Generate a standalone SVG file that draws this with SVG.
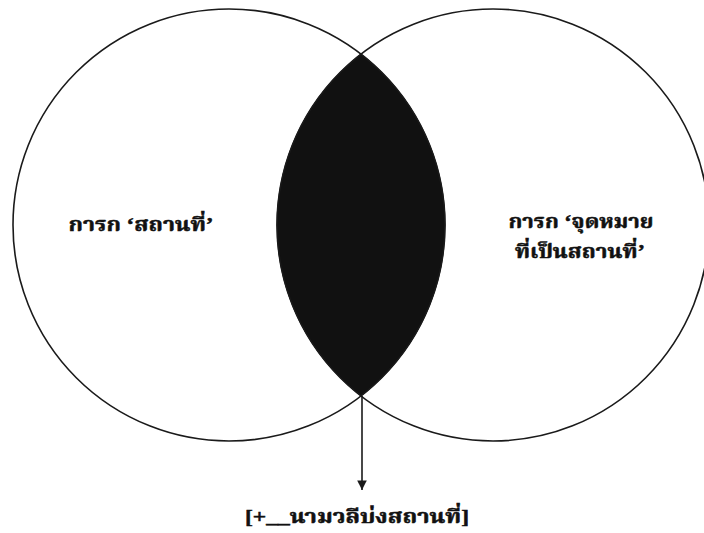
<svg xmlns="http://www.w3.org/2000/svg" width="704" height="533" viewBox="0 0 704 533">
  <style>
    .circle { fill: none; stroke: #1a1a1a; stroke-width: 1.6; }
    .lens { fill: #111111; stroke: #111111; stroke-width: 1; }
    .label { font-family: "Liberation Serif", "Noto Serif Thai", "Noto Sans Thai", serif; font-weight: bold; font-size: 19px; fill: #111111; stroke: #111111; stroke-width: 0.5; text-anchor: middle; }
    .conn { stroke: #1a1a1a; stroke-width: 1.6; fill: none; }
  </style>
  <defs>
    <marker id="arrow" viewBox="0 0 10 10" refX="10" refY="5" markerWidth="6" markerHeight="6" markerUnits="strokeWidth" orient="auto">
      <path d="M0,0 L10,5 L0,10 Z" fill="#1a1a1a"/>
    </marker>
  </defs>
  <rect width="704" height="533" fill="#ffffff"/>
  <g id="intersection">
    <path class="lens" d="M361,54 A216,216 0 0 1 361,396 A216,216 0 0 1 361,54 Z"/>
  </g>
  <g id="left-set">
    <circle class="circle" cx="229" cy="225" r="216"/>
    <text class="label" x="141" y="231" textLength="145" lengthAdjust="spacingAndGlyphs">การก ‘สถานที่’</text>
  </g>
  <g id="right-set">
    <circle class="circle" cx="493" cy="225" r="216"/>
    <text class="label" x="581" y="228" textLength="145" lengthAdjust="spacingAndGlyphs">การก ‘จุดหมาย</text>
    <text class="label" x="580" y="258" textLength="130" lengthAdjust="spacingAndGlyphs">ที่เป็นสถานที่’</text>
  </g>
  <g id="connectors">
    <line class="conn" x1="362" y1="396" x2="362" y2="490" marker-end="url(#arrow)"/>
  </g>
  <g id="result">
    <text class="label" x="357" y="523" textLength="224" lengthAdjust="spacingAndGlyphs">[+__นามวลีบ่งสถานที่]</text>
  </g>
</svg>
